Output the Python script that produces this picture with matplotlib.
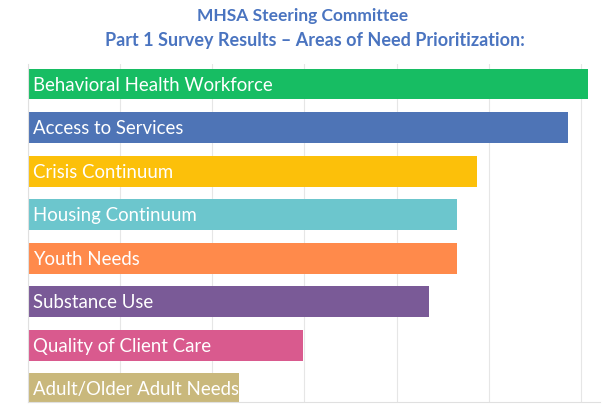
import matplotlib.pyplot as plt

areas = [
    "Behavioral Health Workforce",
    "Access to Services",
    "Crisis Continuum",
    "Housing Continuum",
    "Youth Needs",
    "Substance Use",
    "Quality of Client Care",
    "Adult/Older Adult Needs",
]
scores = [6.07, 5.86, 4.87, 4.65, 4.65, 4.35, 2.98, 2.29]
colors = ["#17BD63", "#4E74B6", "#FCC00A", "#6CC6CD",
          "#FF8A4B", "#7A5A97", "#D95A8E", "#C9B87C"]

plt.rcParams['font.family'] = ['Lato', 'DejaVu Sans']

fig = plt.figure(figsize=(6.05, 4.14), dpi=100)
ax = fig.add_axes([0.046, 0.027, 0.945, 0.816])

ypos = list(range(len(areas)))
bars = ax.barh(ypos, scores, height=0.71, color=colors, zorder=2)
# labels sit inside the bars and get cut off where a bar ends
for bar, y, name in zip(bars, ypos, areas):
    t = ax.text(0.06, y, name, ha="left", va="center", color="white",
                fontsize=13.4, zorder=3)
    t.set_clip_path(bar)

ax.set_xlim(0, 6.2)
ax.set_ylim(7.3, -0.46)
ax.set_xticks(range(0, 7))
ax.set_yticks([])
ax.tick_params(axis="x", length=0, labelbottom=False)
ax.grid(axis="x", color="#E6E6E6", linewidth=0.8, zorder=0)
for side in ("top", "right"):
    ax.spines[side].set_visible(False)
for side in ("left", "bottom"):
    ax.spines[side].set_color("#E0E0E0")

fig.text(0.5, 0.962, "MHSA Steering Committee", ha="center", va="center",
         fontsize=12.5, fontweight="bold", color="#4A74C0")
fig.text(0.52, 0.903, "Part 1 Survey Results \u2013 Areas of Need Prioritization:",
         ha="center", va="center", fontsize=13, fontweight="bold", color="#4A74C0")

fig.savefig("out.png", dpi=100)
